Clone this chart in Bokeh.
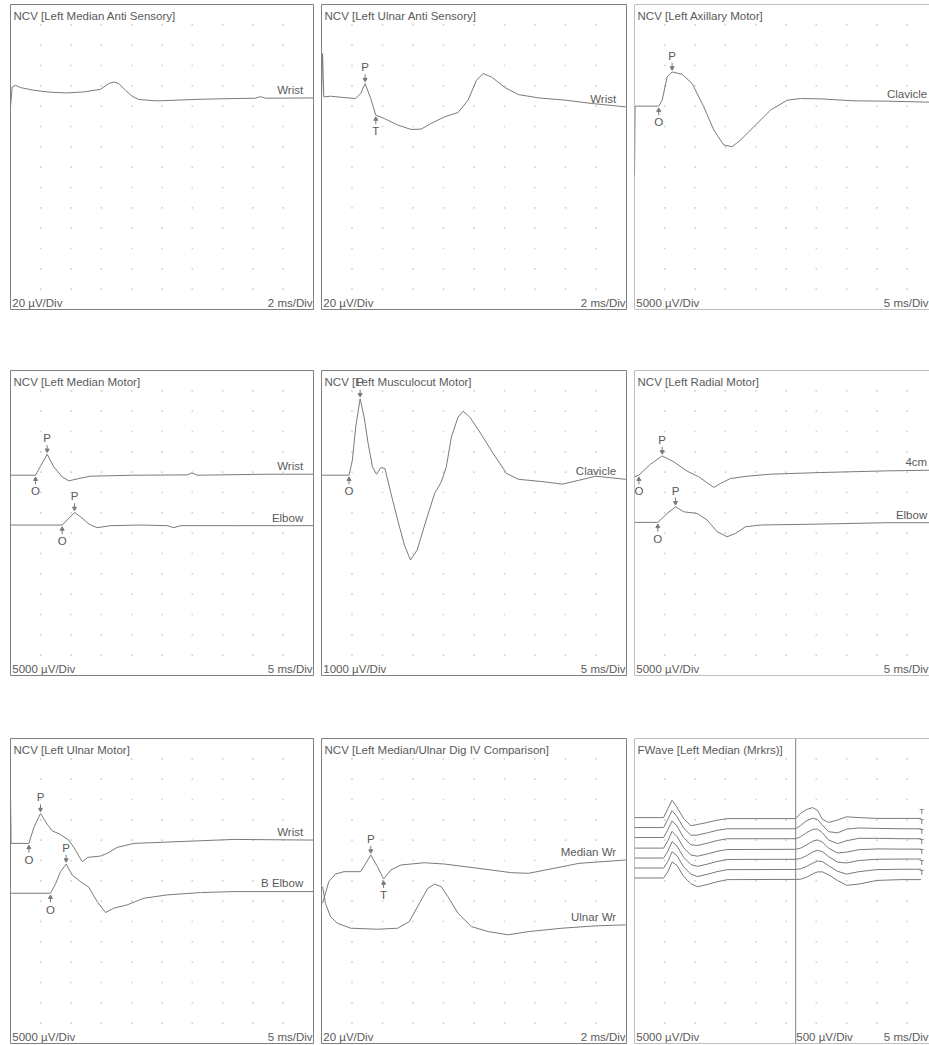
import numpy as np
from bokeh.plotting import figure
from bokeh.layouts import row, column
from bokeh.models import Span, Label
from bokeh.embed import file_html
from bokeh.resources import INLINE

# ---------------- data (time in ms, amplitude in µV) ----------------
# Panel 1: NCV [Left Median Anti Sensory]  (2 ms/Div, 20 µV/Div)
med_sens_t = [0, 0.11, 0.33, 0.66, 1.54, 2.64, 3.74, 4.84, 5.94, 6.49, 6.82, 7.15, 7.59, 8.03,
              8.47, 9.68, 10.78, 12.54, 14.74, 16.17, 16.5, 16.83, 20.0]
med_sens_uv = [-8.5, 11, 12.7, 10.5, 7.8, 5.9, 5.2, 6.2, 8.8, 14.4, 16, 14.4, 7.8, 2,
               -1.3, -2.6, -2, -1, -0.3, 0, 1.6, 0, 0.3]

# Panel 2: NCV [Left Ulnar Anti Sensory]  (2 ms/Div, 20 µV/Div)
uln_sens_t = [0, 0.07, 0.15, 0.59, 1.47, 2.24, 2.57, 2.86, 3.23, 3.56, 4.11, 5.0, 5.87, 6.53,
              7.19, 8.07, 8.96, 9.61, 10.16, 10.6, 11.15, 12.03, 12.91, 14.24, 15.99, 17.75, 19.95]
uln_sens_uv = [0.3, 42.8, 0.3, 1, -0.3, -1.3, 3.6, 13.4, -1.3, -17.6, -20.9, -27.4, -31.7, -31.4,
               -25.8, -19.3, -15, -2.9, 16.7, 23.2, 19.9, 9.5, 2.6, -0.7, -2.9, -6.2, -9.5]
uln_sens_P = (2.86, 13.4)
uln_sens_T = (3.56, -17.6)

# Panel 3: NCV [Left Axillary Motor]  (5 ms/Div, 5000 µV/Div)
axil_t = [0, 0.1, 4.0, 4.57, 5.39, 6.21, 7.86, 9.51, 11.44, 13.09, 14.74, 16.11, 17.49, 19.69,
          22.44, 25.19, 27.39, 30.69, 36.19, 41.69, 48.68]
axil_uv = [-17000, 0, 0, 1470, 7180, 8410, 7840, 5560, -160, -5880, -9560, -9970, -8330, -5070,
           -980, 1470, 1880, 1800, 1310, 1230, 980]
axil_O = (4.0, 0)
axil_P = (6.21, 8410)

# Panel 4: NCV [Left Median Motor]  (5 ms/Div, 5000 µV/Div)
medm_wr_t = [0, 4.13, 4.95, 6.05, 7.15, 8.53, 9.62, 11.27, 13.2, 20.35, 29.15, 29.97, 30.8, 42.35, 50]
medm_wr_uv = [0, 0, 2205, 5145, 2040, -410, -1390, -820, -240, 0, 80, 570, 0, 245, 245]
medm_el_t = [0, 8.53, 9.62, 10.56, 11.55, 12.93, 14.3, 16.5, 21.45, 25.85, 26.95, 28.05, 36.85, 50]
medm_el_uv = [0, 0, 1630, 3100, 2040, 245, -650, -160, 0, -160, -650, -160, -160, -160]
medm_wr_O, medm_wr_P = (4.13, 0), (6.05, 5145)
medm_el_O, medm_el_P = (8.53, 0), (10.56, 3100)

# Panel 5: NCV [Left Musculocut Motor]  (5 ms/Div, 1000 µV/Div)
musc_t = [0, 4.51, 5.06, 5.61, 6.33, 6.99, 7.65, 8.36, 9.02, 9.74, 10.4, 11.39, 12.49, 13.59,
          14.58, 15.68, 17.16, 18.54, 19.64, 20.46, 21.29, 22.39, 23.21, 24.31, 25.96, 28.16,
          30.36, 32.29, 36.69, 39.44, 42.19, 44.93, 49.88]
musc_uv = [0, 0, 735, 2370, 3760, 2860, 1550, 410, 50, 380, 330, -900, -2205, -3430,
           -4170, -3680, -2205, -900, -330, 410, 1880, 2860, 3150, 2860, 2120, 1060,
           80, -200, -330, -440, -250, -50, -200]
musc_O, musc_P = (4.51, 0), (6.33, 3760)

# Panel 6: NCV [Left Radial Motor]  (5 ms/Div, 5000 µV/Div)
rad_fa_t = [0, 0.72, 2.64, 4.57, 6.49, 8.69, 10.61, 11.99, 13.09, 14.19, 15.84, 18.59, 22.44,
            30.69, 41.69, 48.68]
rad_fa_uv = [0, 410, 3110, 5150, 3680, 1400, 0, -1470, -2600, -1630, -410, 160, 650, 1060, 1470, 1630]
rad_el_t = [0, 3.85, 5.39, 6.77, 8.14, 10.34, 11.99, 13.64, 15.29, 16.67, 18.32, 20.79, 30.69,
            41.69, 48.68]
rad_el_uv = [0, 0, 2205, 3830, 2600, 2205, 570, -2300, -3530, -2700, -1070, -650, -410, -80, -80]
rad_fa_O, rad_fa_P = (0.72, 410), (4.57, 5150)
rad_el_O, rad_el_P = (3.85, 0), (6.77, 3830)

# Panel 7: NCV [Left Ulnar Motor]  (5 ms/Div, 5000 µV/Div)
ulm_wr_t = [0, 0.1, 3.03, 3.85, 4.95, 6.05, 6.88, 8.14, 9.62, 10.73, 11.83, 12.76, 14.85, 15.95,
            17.6, 20.35, 25.85, 36.85, 50]
ulm_wr_uv = [12000, 0, 0, 3920, 7350, 4730, 3090, 2280, 810, -1640, -4510, -3430, -3110, -2450,
             -980, 0, 330, 980, 820]
ulm_el_t = [0, 6.6, 7.43, 8.25, 9.18, 10.18, 11.55, 12.93, 14.3, 15.68, 17.05, 19.25, 22.0,
            25.85, 31.35, 36.85, 50]
ulm_el_uv = [0, 0, 2280, 5290, 7180, 4480, 2840, 1470, -2050, -4750, -3680, -2870, -1230,
             -410, 160, 410, 410]
ulm_wr_O, ulm_wr_P = (3.03, 0), (4.95, 7350)
ulm_el_O, ulm_el_P = (6.6, 0), (9.18, 7180)

# Panel 8: NCV [Left Median/Ulnar Dig IV Comparison]  (2 ms/Div, 20 µV/Div)
dig_med_t = [0.07, 0.26, 0.48, 0.92, 1.47, 2.57, 3.23, 3.67, 4.07, 4.55, 5.21, 6.75, 8.07,
             10.28, 12.47, 13.58, 14.67, 16.88, 19.95]
dig_med_uv = [-31, -21.2, -9.8, -2.3, 0, 0, 16.4, 4.9, -7.2, 1.7, 6.6, 8.8, 7.5,
              3.3, -1, -1.6, 1.6, 8.2, 11.5]
dig_uln_t = [0.07, 0.26, 0.59, 1.03, 1.91, 3.67, 5.0, 5.76, 6.42, 6.97, 7.41, 7.85, 8.29, 8.95,
             9.83, 10.93, 12.25, 13.58, 15.77, 17.97, 19.95]
dig_uln_uv = [40.8, 24.5, 11.4, 4.9, 0, -1, 0, 6.5, 24.5, 39.2, 43.4, 40.8, 31, 14.7,
              1.6, -3.3, -6.5, -3.3, 0, 2.3, 3.3]
dig_med_P, dig_med_T = (3.23, 16.4), (4.07, -7.2)

# Panel 9: FWave [Left Median (Mrkrs)]  (5 ms/Div; 5000 µV/Div left, 500 µV/Div right)
fw_split_ms = 26.6
fw_m_t = [0, 4.8, 5.5, 6.2, 7.0, 8.1, 9.3, 10.4, 12.0, 13.6, 15.3, 26.6]
fw_m1 = [0, 0, 2200, 4250, 2600, -250, -2000, -1700, -1200, -650, -250, -250]
fw_m2 = [0, 0, 2000, 4150, 2750, -100, -1900, -1850, -1300, -700, -300, -300]
fw_m3 = [0, 0, 1900, 4100, 2850, 0, -1800, -1950, -1400, -750, -300, -300]
fw_m4 = [0, 0, 1800, 4100, 2900, 100, -1700, -2000, -1450, -800, -350, -300]
fw_m5 = [0, 0, 1700, 4050, 3000, 200, -1600, -2050, -1500, -850, -350, -300]
fw_m6 = [0, 0, 1600, 4000, 3050, 300, -1500, -2100, -1550, -900, -400, -350]
fw_m7 = [0, 0, 1500, 3950, 3100, 400, -1400, -2150, -1600, -950, -400, -350]
fw_f_t = [26.6, 27.4, 28.4, 29.4, 30.2, 31.0, 32.0, 33.5, 35.0, 37.0, 40.0, 44.0, 47.3]
fw_f1 = [-25, 100, 200, 245, 180, -40, -120, -60, 20, 0, -20, -20, -20]
fw_f2 = [-30, 50, 170, 230, 200, 60, -100, -130, -40, -10, -20, -30, -30]
fw_f3 = [-30, 20, 120, 200, 210, 120, -60, -150, -80, -20, -20, -30, -30]
fw_f4 = [-30, 0, 80, 170, 200, 150, 0, -120, -100, -40, -20, -25, -25]
fw_f5 = [-30, -10, 60, 150, 190, 160, 40, -100, -120, -60, -30, -25, -25]
fw_f6 = [-35, -20, 40, 120, 170, 160, 60, -80, -150, -90, -40, -30, -30]
fw_f7 = [-35, -30, 20, 100, 150, 150, 80, -60, -180, -150, -60, -40, -40]

# ---------------- styling / layout ----------------
FONT = "Liberation Sans"
TRACE = "#7a7a7a"
FRAME = "#808080"
TXT = "#5a5a5a"
DOT = "#d2d2d2"
FS = "11.5px"
YDIV = 15
FH = 305   # frame height in px


def txt(p, x, y, s, align="left", baseline="middle", size=FS):
    p.add_layout(Label(x=x, y=y, text=s, text_align=align, text_baseline=baseline,
                       text_font=FONT, text_font_size=size, text_color=TXT))


def panel(title, ms_div, frame_w, xdivs, left_lbl, right_lbl, col, rowi):
    ml = 10 if col == 0 else 2
    mr = 0 if col == 2 else 2
    mt = 4 if rowi == 0 else 2
    mb = 1 if rowi == 2 else 2
    p = figure(width=frame_w + ml + mr, height=FH + mt + mb, x_range=(0, xdivs * ms_div),
               y_range=(-YDIV, 0), output_backend="svg", toolbar_location=None,
               x_axis_location=None, y_axis_location=None,
               min_border_left=ml, min_border_right=mr, min_border_top=mt, min_border_bottom=mb)
    p.grid.visible = False
    p.background_fill_color = "white"
    p.border_fill_color = "white"
    if col == 2:
        p.outline_line_color = None
        p.add_layout(Span(location=0, dimension="height", line_color=FRAME, line_width=1))
        p.add_layout(Span(location=0, dimension="width", line_color=FRAME, line_width=1))
        p.add_layout(Span(location=-YDIV, dimension="width", line_color=FRAME, line_width=1))
    else:
        p.outline_line_color = FRAME
        p.outline_line_width = 1
    gx, gy = np.meshgrid(np.arange(1, 10) * ms_div, -np.arange(1, YDIV))
    p.scatter(gx.ravel(), gy.ravel(), marker="square", size=1.6, color=DOT, line_color=None)
    txt(p, 0.1 * ms_div, -0.55, title)
    txt(p, 0.06 * ms_div, -14.7, left_lbl)
    txt(p, xdivs * ms_div - 0.03 * ms_div, -14.7, right_lbl, align="right")
    return p


def trace(p, t, uv, base, uv_div, label=None, label_x=None):
    y = -base + np.asarray(uv, dtype=float) / uv_div
    p.line(t, y, line_color=TRACE, line_width=1.0)
    if label:
        txt(p, label_x, y[-1] + 0.4, label, align="right")


def mark(p, pt, base, uv_div, letter, above):
    t, uv = pt
    y0 = -base + uv / uv_div
    s = 1 if above else -1
    p.segment(x0=[t], y0=[y0 + s * 0.15], x1=[t], y1=[y0 + s * 0.45],
              line_color=TRACE, line_width=1)
    p.scatter([t], [y0 + s * 0.2], marker="inverted_triangle" if above else "triangle",
              size=4, color=TRACE)
    txt(p, t, y0 + s * 0.8, letter, align="center")


W1, W2, W3 = 303, 305, 295
X3 = W3 / 30.3   # visible divisions in the last column
LX = 9.66         # label right edge (divisions)

# Panel 1
p1 = panel("NCV [Left Median Anti Sensory]", 2, W1, 10, "20 µV/Div", "2 ms/Div", 0, 0)
trace(p1, med_sens_t, med_sens_uv, 4.61, 20, "Wrist", LX * 2)

# Panel 2
p2 = panel("NCV [Left Ulnar Anti Sensory]", 2, W2, 10, "20 µV/Div", "2 ms/Div", 1, 0)
trace(p2, uln_sens_t, uln_sens_uv, 4.56, 20, "Wrist", LX * 2)
mark(p2, uln_sens_P, 4.56, 20, "P", True)
mark(p2, uln_sens_T, 4.56, 20, "T", False)

# Panel 3
p3 = panel("NCV [Left Axillary Motor]", 5, W3, X3, "5000 µV/Div", "5 ms/Div", 2, 0)
trace(p3, axil_t, axil_uv, 5.0, 5000, "Clavicle", LX * 5)
mark(p3, axil_O, 5.0, 5000, "O", False)
mark(p3, axil_P, 5.0, 5000, "P", True)

# Panel 4
p4 = panel("NCV [Left Median Motor]", 5, W1, 10, "5000 µV/Div", "5 ms/Div", 0, 1)
trace(p4, medm_wr_t, medm_wr_uv, 5.15, 5000, "Wrist", LX * 5)
trace(p4, medm_el_t, medm_el_uv, 7.6, 5000, "Elbow", LX * 5)
mark(p4, medm_wr_O, 5.15, 5000, "O", False)
mark(p4, medm_wr_P, 5.15, 5000, "P", True)
mark(p4, medm_el_O, 7.6, 5000, "O", False)
mark(p4, medm_el_P, 7.6, 5000, "P", True)

# Panel 5
p5 = panel("NCV [Left Musculocut Motor]", 5, W2, 10, "1000 µV/Div", "5 ms/Div", 1, 1)
trace(p5, musc_t, musc_uv, 5.15, 1000, "Clavicle", LX * 5)
mark(p5, musc_O, 5.15, 1000, "O", False)
mark(p5, musc_P, 5.15, 1000, "P", True)

# Panel 6
p6 = panel("NCV [Left Radial Motor]", 5, W3, X3, "5000 µV/Div", "5 ms/Div", 2, 1)
trace(p6, rad_fa_t, rad_fa_uv, 5.23, 5000, "4cm", LX * 5)
trace(p6, rad_el_t, rad_el_uv, 7.47, 5000, "Elbow", LX * 5)
mark(p6, rad_fa_O, 5.23, 5000, "O", False)
mark(p6, rad_fa_P, 5.23, 5000, "P", True)
mark(p6, rad_el_O, 7.47, 5000, "O", False)
mark(p6, rad_el_P, 7.47, 5000, "P", True)

# Panel 7
p7 = panel("NCV [Left Ulnar Motor]", 5, W1, 10, "5000 µV/Div", "5 ms/Div", 0, 2)
trace(p7, ulm_wr_t, ulm_wr_uv, 5.16, 5000, "Wrist", LX * 5)
trace(p7, ulm_el_t, ulm_el_uv, 7.61, 5000, "B Elbow", LX * 5)
mark(p7, ulm_wr_O, 5.16, 5000, "O", False)
mark(p7, ulm_wr_P, 5.16, 5000, "P", True)
mark(p7, ulm_el_O, 7.61, 5000, "O", False)
mark(p7, ulm_el_P, 7.61, 5000, "P", True)

# Panel 8
p8 = panel("NCV [Left Median/Ulnar Dig IV Comparison]", 2, W2, 10, "20 µV/Div", "2 ms/Div", 1, 2)
trace(p8, dig_med_t, dig_med_uv, 6.55, 20, "Median Wr", LX * 2)
trace(p8, dig_uln_t, dig_uln_uv, 9.33, 20, "Ulnar Wr", LX * 2)
mark(p8, dig_med_P, 6.55, 20, "P", True)
mark(p8, dig_med_T, 6.55, 20, "T", False)

# Panel 9
p9 = panel("FWave [Left Median (Mrkrs)]", 5, W3, X3, "5000 µV/Div", "5 ms/Div", 2, 2)
p9.add_layout(Span(location=fw_split_ms, dimension="height", line_color=FRAME, line_width=1))
txt(p9, fw_split_ms + 0.1, -14.7, "500 µV/Div")
fw_bases = [3.89, 4.38, 4.87, 5.39, 5.88, 6.37, 6.86]
for base, m, f in zip(fw_bases, [fw_m1, fw_m2, fw_m3, fw_m4, fw_m5, fw_m6, fw_m7],
                      [fw_f1, fw_f2, fw_f3, fw_f4, fw_f5, fw_f6, fw_f7]):
    trace(p9, fw_m_t, m, base, 5000)
    trace(p9, fw_f_t, f, base, 500)
    yr = -base + f[-1] / 500
    txt(p9, 47.0, yr + 0.35, "T", size="8px")

layout = column(
    row(p1, p2, p3, spacing=4),
    column(row(p4, p5, p6, spacing=4), row(p7, p8, p9, spacing=4), spacing=59),
    spacing=57,
)

open("out.html", "w").write(file_html(layout, INLINE))
